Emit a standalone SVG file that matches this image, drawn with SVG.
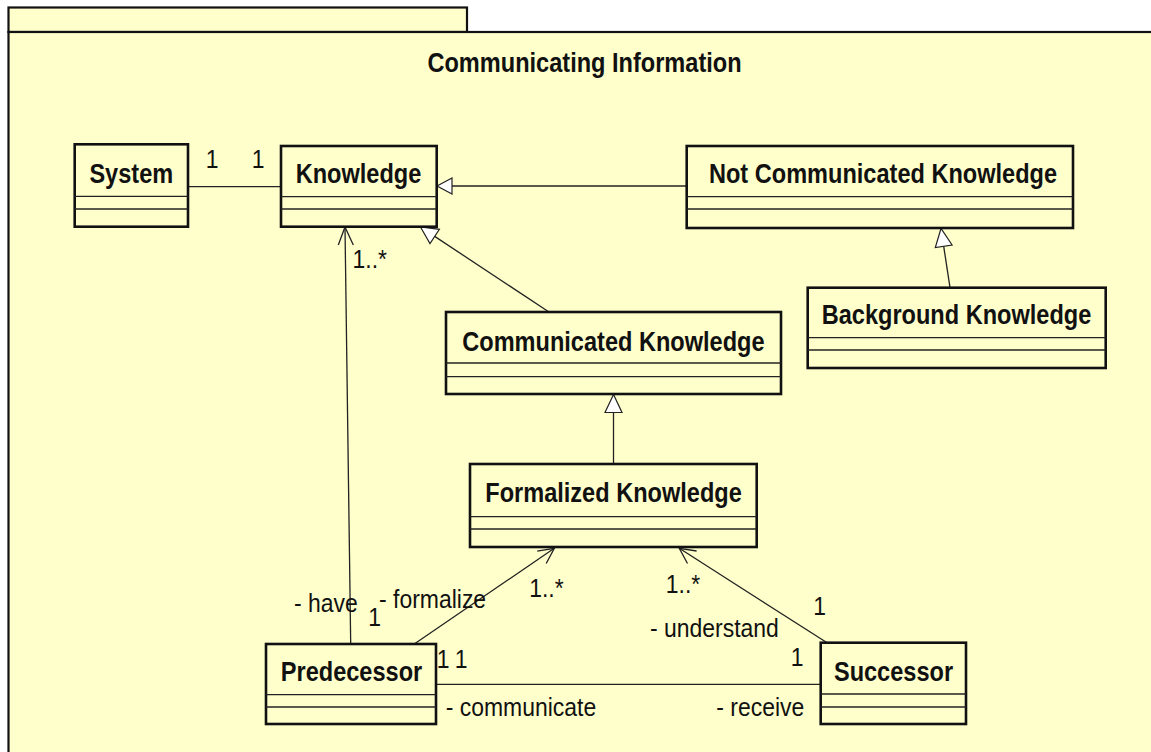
<svg xmlns="http://www.w3.org/2000/svg" width="1151" height="752" viewBox="0 0 1151 752">
<style>
.pkg{fill:#FFFFCC;stroke:#111;stroke-width:2.2}
.box{fill:#FFFFCC;stroke:#111;stroke-width:2.6}
.sep{stroke:#222;stroke-width:1.3;fill:none}
.ln{stroke:#222;stroke-width:1.3;fill:none}
.tri{fill:#fff;stroke:#222;stroke-width:1.2}
.b{font-family:"Liberation Sans",Arial,sans-serif;font-weight:bold;font-size:27px;fill:#111;text-anchor:middle}
.r{font-family:"Liberation Sans",Arial,sans-serif;font-size:26.7px;fill:#111}
</style>
<rect width="1151" height="752" fill="#fff"/>
<g id="package">
<rect class="pkg" x="8.5" y="7.5" width="458.5" height="24.5"/>
<rect class="pkg" x="8.5" y="32" width="1170" height="750"/>
<text class="b" transform="matrix(0.873 0 0 1 584.5 72)">Communicating Information</text>
</g>
<g id="connectors">
<line class="ln" x1="188" y1="186.7" x2="281" y2="186.7"/>
<line class="ln" x1="686.7" y1="186" x2="452" y2="186"/>
<polygon class="tri" points="437,186 452,178 452,194"/>
<line class="ln" x1="549" y1="312" x2="434.7" y2="236.4"/>
<polygon class="tri" points="420.5,227 430,243.5 439.4,229.3"/>
<line class="ln" x1="950" y1="287.7" x2="943.7" y2="246.3"/>
<polygon class="tri" points="941,228.5 935.3,247.6 952.1,245"/>
<line class="ln" x1="613.5" y1="464" x2="613.5" y2="412.5"/>
<polygon class="tri" points="613.5,394.5 605,412.5 622,412.5"/>
<line class="ln" x1="350.7" y1="644" x2="345" y2="227"/>
<polyline class="ln" points="338.3,245 345,227 353.3,245"/>
<line class="ln" x1="415" y1="643.5" x2="554.3" y2="548.3"/>
<polyline class="ln" points="546.2,563.5 554.3,548.3 537.2,551.2"/>
<line class="ln" x1="826.7" y1="642.5" x2="679.3" y2="548.3"/>
<polyline class="ln" points="687.5,563.5 679.3,548.3 696.6,551"/>
<line class="ln" x1="436" y1="684.3" x2="820.7" y2="684.3"/>
</g>
<g id="labels">
<text class="r" transform="matrix(0.86 0 0 1 205.8 168.3)">1</text>
<text class="r" transform="matrix(0.86 0 0 1 251.8 168.3)">1</text>
<text class="r" transform="matrix(0.86 0 0 1 352.5 268.3)">1..*</text>
<text class="r" transform="matrix(0.86 0 0 1 294 612.3)">- have</text>
<text class="r" transform="matrix(0.86 0 0 1 368.2 625.7)">1</text>
<text class="r" transform="matrix(0.86 0 0 1 379 608.3)">- formalize</text>
<text class="r" transform="matrix(0.86 0 0 1 529.2 597.3)">1..*</text>
<text class="r" transform="matrix(0.86 0 0 1 436.8 668.3)">1</text>
<text class="r" transform="matrix(0.86 0 0 1 454.8 668.3)">1</text>
<text class="r" transform="matrix(0.86 0 0 1 445.7 716)">- communicate</text>
<text class="r" transform="matrix(0.86 0 0 1 665.8 593.3)">1..*</text>
<text class="r" transform="matrix(0.86 0 0 1 813.2 615)">1</text>
<text class="r" transform="matrix(0.86 0 0 1 650 637.3)">- understand</text>
<text class="r" transform="matrix(0.86 0 0 1 790.8 666)">1</text>
<text class="r" transform="matrix(0.86 0 0 1 716.3 716)">- receive</text>
</g>
<g id="System">
<rect class="box" x="74.7" y="144.3" width="113.3" height="82.4"/>
<line class="sep" x1="74.7" y1="196.3" x2="188" y2="196.3"/>
<line class="sep" x1="74.7" y1="209" x2="188" y2="209"/>
<text class="b" transform="matrix(0.873 0 0 1 131.3 183.3)">System</text>
</g>
<g id="Knowledge">
<rect class="box" x="281" y="146" width="155.7" height="80.7"/>
<line class="sep" x1="281" y1="196.7" x2="436.7" y2="196.7"/>
<line class="sep" x1="281" y1="209" x2="436.7" y2="209"/>
<text class="b" transform="matrix(0.873 0 0 1 358.5 183.3)">Knowledge</text>
</g>
<g id="NotCommunicatedKnowledge">
<rect class="box" x="686.7" y="146" width="386.3" height="82"/>
<line class="sep" x1="686.7" y1="196.7" x2="1073" y2="196.7"/>
<line class="sep" x1="686.7" y1="209" x2="1073" y2="209"/>
<text class="b" transform="matrix(0.873 0 0 1 883 183.3)">Not Communicated Knowledge</text>
</g>
<g id="BackgroundKnowledge">
<rect class="box" x="807.7" y="287.7" width="298" height="80.3"/>
<line class="sep" x1="807.7" y1="337.7" x2="1105.7" y2="337.7"/>
<line class="sep" x1="807.7" y1="350" x2="1105.7" y2="350"/>
<text class="b" transform="matrix(0.873 0 0 1 956.5 324.3)">Background Knowledge</text>
</g>
<g id="CommunicatedKnowledge">
<rect class="box" x="446" y="312" width="335" height="82"/>
<line class="sep" x1="446" y1="363" x2="781" y2="363"/>
<line class="sep" x1="446" y1="376.7" x2="781" y2="376.7"/>
<text class="b" transform="matrix(0.873 0 0 1 613.4 351)">Communicated Knowledge</text>
</g>
<g id="FormalizedKnowledge">
<rect class="box" x="470" y="464" width="286.7" height="83"/>
<line class="sep" x1="470" y1="516.7" x2="756.7" y2="516.7"/>
<line class="sep" x1="470" y1="529" x2="756.7" y2="529"/>
<text class="b" transform="matrix(0.873 0 0 1 613.5 502.3)">Formalized Knowledge</text>
</g>
<g id="Predecessor">
<rect class="box" x="266" y="644" width="170" height="80"/>
<line class="sep" x1="266" y1="694.7" x2="436" y2="694.7"/>
<line class="sep" x1="266" y1="707" x2="436" y2="707"/>
<text class="b" transform="matrix(0.873 0 0 1 351.5 680.7)">Predecessor</text>
</g>
<g id="Successor">
<rect class="box" x="820.7" y="642.7" width="145.3" height="81.3"/>
<line class="sep" x1="820.7" y1="694" x2="966" y2="694"/>
<line class="sep" x1="820.7" y1="707" x2="966" y2="707"/>
<text class="b" transform="matrix(0.873 0 0 1 893.5 680.7)">Successor</text>
</g>
</svg>
